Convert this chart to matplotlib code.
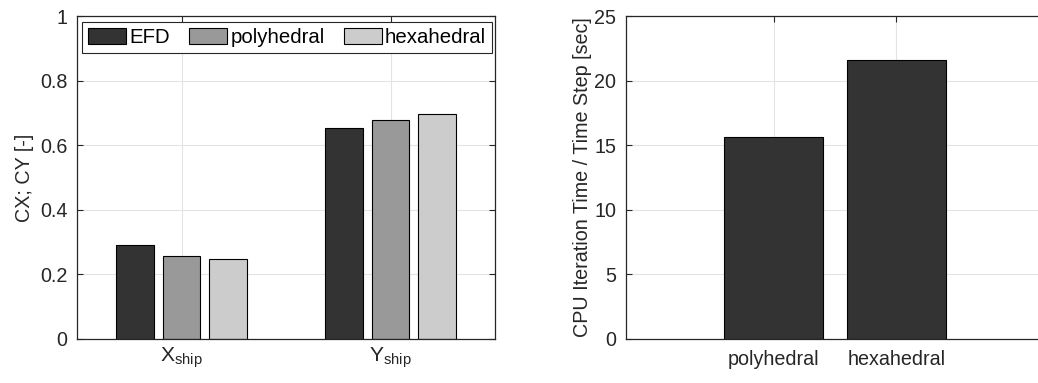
import numpy as np
import matplotlib
matplotlib.use("Agg")
import matplotlib.pyplot as plt
from matplotlib.ticker import FormatStrFormatter

plt.rcParams['font.family'] = ['Liberation Sans', 'DejaVu Sans']
plt.rcParams['mathtext.fontset'] = 'custom'
plt.rcParams['mathtext.rm'] = 'Liberation Sans'
plt.rcParams['mathtext.it'] = 'Liberation Sans:italic'

# force coefficients per direction
directions = [r'X$_{\rm ship}$', r'Y$_{\rm ship}$']
series_names = ['EFD', 'polyhedral', 'hexahedral']
efd = [0.291, 0.654]
poly = [0.256, 0.679]
hexa = [0.248, 0.696]

# CPU cost per time step
mesh_types = ['polyhedral', 'hexahedral']
cpu_time = [15.6, 21.6]

colors = ['#333333', '#999999', '#cccccc']
spine_c = '#262626'
grid_c = '#e3e3e3'
fs = 14.2


def style_axes(ax):
    ax.grid(True, color=grid_c, linewidth=0.8)
    ax.set_axisbelow(True)
    ax.tick_params(direction='in', top=True, right=True, length=4,
                   width=0.8, colors=spine_c, labelsize=fs, pad=7)
    for s in ax.spines.values():
        s.set_color(spine_c)
        s.set_linewidth(0.9)


fig = plt.figure(figsize=(10.38, 3.83), dpi=100)

# left: grouped bars
ax1 = fig.add_axes([0.0742, 0.1149, 0.4027, 0.8433])
x = np.arange(1, len(directions) + 1)
offsets = [-0.222, 0.0, 0.222]
for vals, off, c, name in zip([efd, poly, hexa], offsets, colors, series_names):
    ax1.bar(x + off, vals, width=0.18, color=c, edgecolor='black',
            linewidth=0.8, label=name)
ax1.set_xlim(0.5, 2.5)
ax1.set_ylim(0, 1)
ax1.set_xticks(x)
ax1.set_xticklabels(directions)
ax1.set_yticks(np.arange(0, 1.01, 0.2))
ax1.yaxis.set_major_formatter(FormatStrFormatter('%g'))
ax1.set_ylabel('CX; CY [-]', fontsize=fs, color=spine_c, labelpad=4)
style_axes(ax1)
ax1.tick_params(axis='x', labelsize=fs + 1, pad=5)
leg = ax1.legend(loc='upper left', bbox_to_anchor=(0.012, 0.0, 0.981, 0.983),
                 mode='expand', ncol=3,
                 fontsize=fs + 0.5, handlelength=1.86, handleheight=0.85,
                 handletextpad=0.15, columnspacing=0.5, borderpad=0.3,
                 borderaxespad=0.0, fancybox=False, framealpha=1)
leg.get_frame().set_edgecolor(spine_c)
leg.get_frame().set_linewidth(0.8)

# right: CPU time per mesh type
ax2 = fig.add_axes([0.6031, 0.1149, 0.4027, 0.8433])
x2 = np.arange(1, len(mesh_types) + 1)
ax2.bar(x2, cpu_time, width=0.8, color=colors[0], edgecolor='black', linewidth=0.8)
ax2.set_xlim(-0.2, 3.2)
ax2.set_ylim(0, 25)
ax2.set_xticks(x2)
ax2.set_xticklabels(mesh_types)
ax2.set_yticks(np.arange(0, 26, 5))
ax2.set_ylabel('CPU Iteration Time / Time Step [sec]', fontsize=fs, color=spine_c, labelpad=2)
style_axes(ax2)
ax2.tick_params(axis='x', pad=8)

fig.savefig('out.png', dpi=100)
